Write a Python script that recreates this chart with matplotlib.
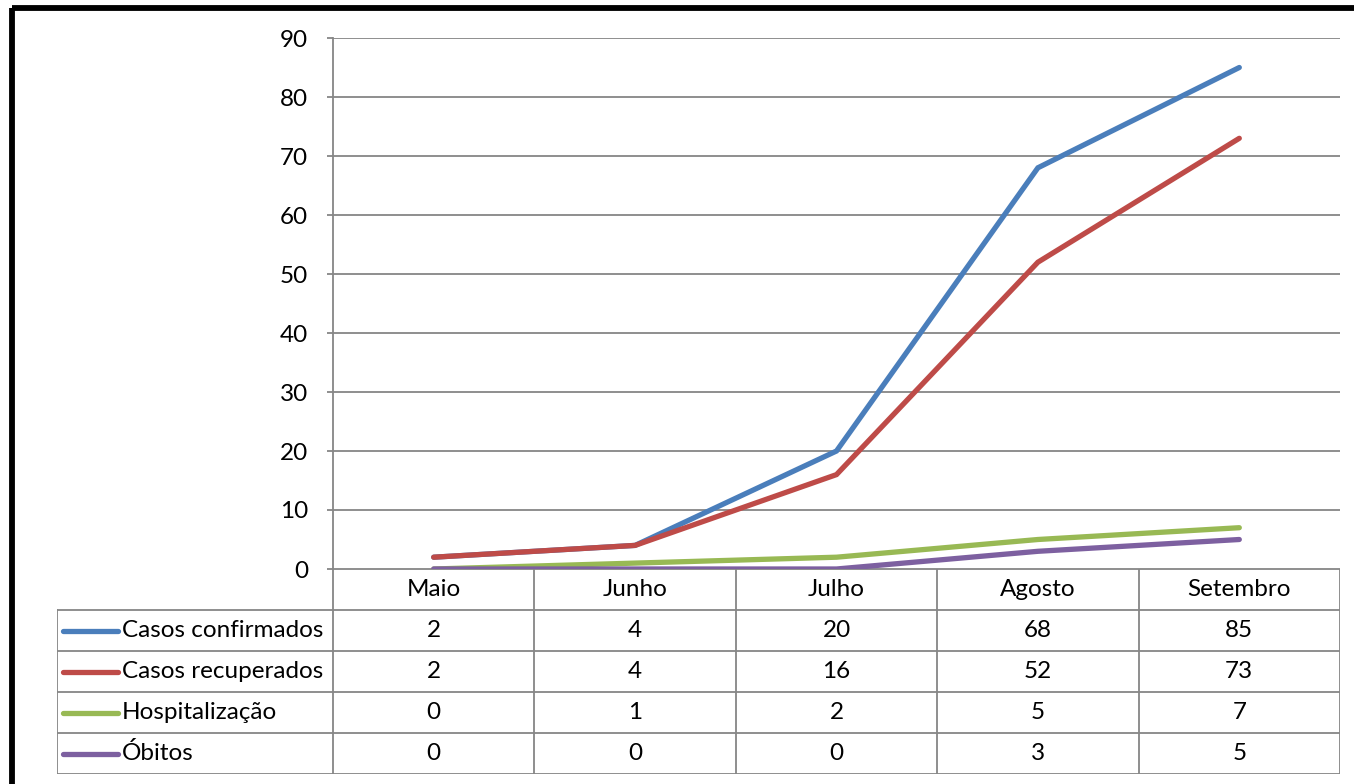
import matplotlib.pyplot as plt
from matplotlib.lines import Line2D

plt.rcParams['font.family'] = ['Lato', 'DejaVu Sans']

# data
months = ['Maio', 'Junho', 'Julho', 'Agosto', 'Setembro']
series_names = ['Casos confirmados', 'Casos recuperados', 'Hospitalização', 'Óbitos']
confirmados = [2, 4, 20, 68, 85]
recuperados = [2, 4, 16, 52, 73]
hospitalizacao = [0, 1, 2, 5, 7]
obitos = [0, 0, 0, 3, 5]
series_values = [confirmados, recuperados, hospitalizacao, obitos]
colors = ['#4A7EBB', '#BE4B48', '#98B954', '#7D60A0']
yticks = list(range(0, 91, 10))

W, H = 1354, 784
fig = plt.figure(figsize=(W / 100, H / 100), dpi=100)
grid_c = '#868686'
fs = 17.5

# main plot area
ax = fig.add_axes([333 / W, (H - 569) / H, 1007 / W, (569 - 38) / H])
x = list(range(len(months)))
for vals, c in zip(series_values, colors):
    ax.plot(x, vals, color=c, lw=3.8, solid_capstyle='round', solid_joinstyle='miter')
ax.set_xlim(-0.5, len(months) - 0.5)
ax.set_ylim(0, 90)
ax.set_yticks(yticks)
ax.set_xticks([])
ax.yaxis.grid(True, color=grid_c, lw=1.3)
ax.set_axisbelow(True)
for s in ['top', 'right', 'bottom']:
    ax.spines[s].set_visible(False)
ax.spines['left'].set_color(grid_c)
ax.spines['left'].set_linewidth(1.3)
ax.tick_params(axis='y', length=4, color=grid_c, width=1.3, pad=14, labelsize=fs)

# data table below
tab_l = 57
tab = fig.add_axes([tab_l / W, (H - 774) / H, (1340 - tab_l) / W, 205 / H])
cell_w = 1007 / 5
left = -0.5 - (333 - tab_l) / cell_w
right = len(months) - 0.5
nrows = len(series_names) + 1
tab.set_xlim(left, right)
tab.set_ylim(nrows, 0)
tab.axis('off')
lw = 1.3
# horizontal lines
tab.plot([-0.5, right], [0, 0], color=grid_c, lw=lw)
for r in range(1, nrows + 1):
    tab.plot([left, right], [r, r], color=grid_c, lw=lw)
# vertical lines
tab.plot([left, left], [1, nrows], color=grid_c, lw=lw)
for i in range(len(months) + 1):
    tab.plot([i - 0.5, i - 0.5], [0, nrows], color=grid_c, lw=lw)
# header
for i, m in enumerate(months):
    tab.text(i, 0.5, m, ha='center', va='center', fontsize=fs)
# rows
k0 = left + (63 - tab_l) / cell_w
k1 = left + (118 - tab_l) / cell_w
t0 = left + (122 - tab_l) / cell_w
for r, (name, vals, c) in enumerate(zip(series_names, series_values, colors), start=1):
    tab.plot([k0, k1], [r + 0.5, r + 0.5], color=c, lw=3.8, solid_capstyle='round')
    tab.text(t0, r + 0.5, name, ha='left', va='center', fontsize=fs)
    for i, v in enumerate(vals):
        tab.text(i, r + 0.5, str(v), ha='center', va='center', fontsize=fs)

# outer chart border: only left and top edges are inside the picture
bx, by = 11.5 / W, (H - 8) / H
fig.add_artist(Line2D([bx, bx], [-0.01, by], transform=fig.transFigure, color='black',
                      lw=4.2, solid_capstyle='butt'))
fig.add_artist(Line2D([bx, 1.01], [by, by], transform=fig.transFigure, color='black',
                      lw=4.2, solid_capstyle='butt'))

fig.savefig('out.png', dpi=100)
